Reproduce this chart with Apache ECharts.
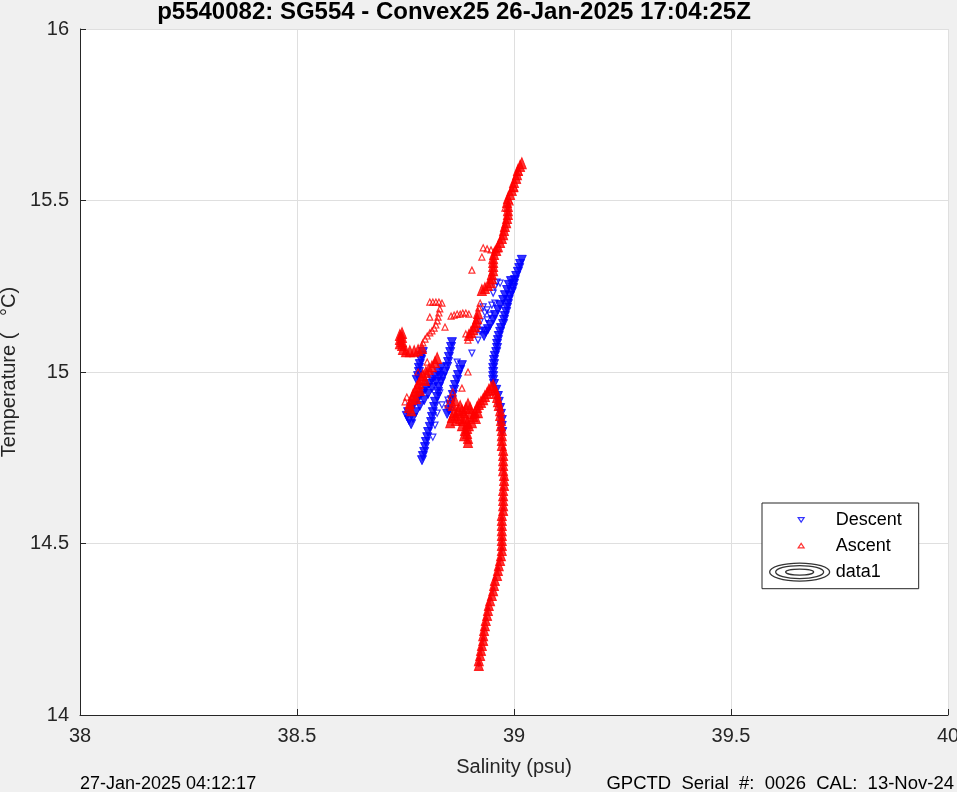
<!DOCTYPE html>
<html>
<head>
<meta charset="utf-8">
<script src="https://cdn.jsdelivr.net/npm/echarts/dist/echarts.min.js"></script>
<style>
html,body{margin:0;padding:0;background:#f0f0f0;}
#chart{width:957px;height:792px;}
</style>
</head>
<body>
<div id="chart"></div>
<script>
// ---------- axis ticks ----------
const salinityTicks = [38, 38.5, 39, 39.5, 40];
const temperatureTicks = [14, 14.5, 15, 15.5, 16];

// ---------- text ----------
const titleText = 'p5540082: SG554 - Convex25 26-Jan-2025 17:04:25Z';
const xLabel = 'Salinity (psu)';
const yLabel = 'Temperature (   °C)';
const footLeft = '27-Jan-2025 04:12:17';
const footRight = 'GPCTD  Serial  #:  0026  CAL:  13-Nov-24';

// ---------- Descent (salinity, temperature) ----------
const descentMain = [
[39.018,15.327],[39.014,15.315],[39.012,15.303],[39.009,15.292],[39.005,15.280],[39.002,15.268],[39.000,15.257],[38.998,15.245],[38.995,15.233],[38.991,15.222],[38.988,15.210],[38.986,15.198],[38.984,15.187],[38.982,15.175],[38.979,15.163],[38.977,15.152],[38.975,15.140],[38.970,15.128],[38.968,15.117],[38.965,15.105],[38.963,15.093],[38.961,15.082],[38.961,15.070],[38.959,15.058],[38.956,15.047],[38.954,15.035],[38.954,15.023],[38.952,15.012],[38.952,15.000],[38.952,14.988],[38.952,14.977],[38.954,14.965],[38.959,14.948],[38.963,14.930],[38.965,14.913],[38.968,14.895],[38.970,14.878],[38.972,14.860],[38.972,14.843],[38.973,14.825]
];
const descentDeep = [
[38.972,14.802],[38.975,14.773],[38.975,14.743],[38.975,14.714],[38.977,14.685],[38.975,14.656],[38.975,14.627],[38.975,14.598],[38.972,14.569],[38.972,14.539],[38.972,14.510],[38.972,14.481],[38.968,14.452],[38.963,14.423],[38.956,14.394],[38.952,14.364],[38.945,14.335],[38.940,14.306],[38.935,14.277],[38.931,14.248],[38.929,14.219],[38.924,14.190],[38.919,14.160],[38.919,14.146]
];
const descentBand = [
[38.993,15.265],[38.988,15.254],[38.984,15.239],[38.979,15.224],[38.975,15.210],[38.968,15.195],[38.963,15.181],[38.956,15.166],[38.952,15.152],[38.945,15.137],[38.940,15.125],[38.935,15.117],[38.931,15.105]
];
const descentLeft = [
[38.790,15.058],[38.788,15.047],[38.786,15.035],[38.783,15.023],[38.781,15.012],[38.781,15.000],[38.779,14.988],[38.776,14.977],
[38.832,15.012],[38.825,15.000],[38.818,14.988],[38.811,14.977],[38.804,14.965],[38.797,14.953],[38.790,14.942],[38.783,14.930],[38.776,14.918],[38.770,14.907],[38.763,14.895],[38.756,14.883],[38.753,14.872],[38.758,14.860],[38.763,14.848],
[38.829,14.988],[38.820,14.971],[38.811,14.953],[38.802,14.936],[38.793,14.918],[38.783,14.901],[38.774,14.883],[38.767,14.866]
];
const descentMiddle = [
[38.857,15.087],[38.855,15.073],[38.853,15.058],[38.850,15.044],[38.848,15.029],[38.846,15.015],[38.841,15.000],[38.836,14.985],[38.832,14.971],[38.827,14.956],[38.825,14.942],[38.823,14.927],[38.818,14.913],[38.816,14.898],[38.813,14.883],[38.811,14.869],[38.809,14.854],[38.806,14.840],[38.802,14.825],[38.800,14.810],[38.797,14.796],[38.795,14.781],[38.793,14.767],[38.790,14.755],[38.788,14.743]
];
const descentRight = [
[38.880,15.020],[38.876,15.006],[38.871,14.991],[38.869,14.977],[38.864,14.962],[38.862,14.948],[38.859,14.933],[38.857,14.918],[38.853,14.904],[38.850,14.889],[38.846,14.878]
];
const descentMarks = [
[38.961,15.262],[38.968,15.259],[38.956,15.248],[38.952,15.230],[38.956,15.201],[38.949,15.195],[38.938,15.181],[38.933,15.172],[38.945,15.166],[38.938,15.152],[38.929,15.122],[38.922,15.117],[38.929,15.190],[38.922,15.146],[38.915,15.122],[38.917,15.093],
[38.903,15.055],[38.869,15.029],[38.829,14.939],[38.834,14.904],[38.823,14.880],[38.818,14.845],[38.813,14.810],[38.848,14.918],[38.855,14.889]
];

// ---------- Ascent (salinity, temperature) ----------
const ascentDeep = [
[38.952,14.962],[38.956,14.950],[38.959,14.939],[38.961,14.927],[38.963,14.915],[38.965,14.904],[38.968,14.889],[38.968,14.875],[38.970,14.860],[38.970,14.845],[38.972,14.831],[38.972,14.816],[38.972,14.802],[38.972,14.787],[38.975,14.773],[38.975,14.758],[38.975,14.743],[38.975,14.729],[38.975,14.714],[38.977,14.700],[38.977,14.685],[38.977,14.671],[38.975,14.656],[38.975,14.641],[38.975,14.627],[38.975,14.612],[38.975,14.598],[38.972,14.583],[38.972,14.569],[38.972,14.554],[38.972,14.539],[38.972,14.525],[38.972,14.510],[38.972,14.496],[38.972,14.481],[38.970,14.466],[38.968,14.452],[38.965,14.437],[38.963,14.423],[38.961,14.408],[38.956,14.394],[38.954,14.379],[38.952,14.364],[38.949,14.350],[38.945,14.335],[38.942,14.321],[38.940,14.306],[38.938,14.292],[38.935,14.277],[38.933,14.262],[38.931,14.248],[38.929,14.233],[38.929,14.219],[38.926,14.204],[38.924,14.190],[38.922,14.175],[38.919,14.160],[38.919,14.146]
];
const ascentKink = [
[38.853,14.854],[38.857,14.869],[38.862,14.883],[38.866,14.875],[38.871,14.889],[38.876,14.901],[38.880,14.889],[38.885,14.883],[38.889,14.895],[38.894,14.907],[38.899,14.895],[38.901,14.880],[38.906,14.872],[38.910,14.883],[38.915,14.898],[38.919,14.907],[38.924,14.913],[38.929,14.921],[38.933,14.930],[38.938,14.939],[38.942,14.948],[38.947,14.956],
[38.889,14.866],[38.892,14.851],[38.892,14.837],[38.892,14.822],[38.894,14.808],[38.894,14.796],[38.887,14.831],[38.896,14.845],[38.859,14.904],[38.864,14.918],
[38.866,14.860],[38.876,14.866],[38.882,14.860],[38.903,14.854],[38.912,14.866],[38.917,14.883],[38.880,14.845],[38.885,14.816]
];
const ascentUpper = [
[39.018,15.609],[39.014,15.601],[39.009,15.589],[39.007,15.577],[39.005,15.566],[39.000,15.554],[38.998,15.542],[38.995,15.531],[38.991,15.519],[38.986,15.507],[38.984,15.496],[38.986,15.484],[38.986,15.472],[38.986,15.461],[38.984,15.449],[38.982,15.437],[38.979,15.426],[38.977,15.414],[38.975,15.402],[38.972,15.391],[38.968,15.379],[38.963,15.367],[38.959,15.356],[38.954,15.344],[38.952,15.332],[38.952,15.321],[38.952,15.309],[38.952,15.297],[38.949,15.286],[38.949,15.274],[38.947,15.262],[38.940,15.254],[38.933,15.245],[38.926,15.239]
];
const ascentMid = [
[38.917,15.172],[38.915,15.157],[38.912,15.146],[38.910,15.134],[38.906,15.125],[38.901,15.117],[38.896,15.108]
];
const ascentHook = [
[38.742,15.114],[38.742,15.102],[38.742,15.090],[38.742,15.079],[38.744,15.067],[38.751,15.061],[38.760,15.061],[38.770,15.061],[38.779,15.064],[38.788,15.070],[38.737,15.108],[38.737,15.096],[38.737,15.084]
];
const ascentLeft = [
[38.823,15.041],[38.818,15.029],[38.811,15.017],[38.804,15.009],[38.797,15.000],[38.790,14.991],[38.786,14.980],[38.781,14.968],[38.776,14.956],[38.772,14.945],[38.767,14.933],[38.765,14.921],[38.760,14.910],[38.758,14.898],[38.763,14.889],[38.795,14.977],[38.783,14.948],[38.774,14.924]
];
const ascentMarks = [
[38.929,15.362],[38.938,15.359],[38.947,15.356],[38.956,15.356],[38.963,15.359],[38.926,15.335],[38.903,15.297],[39.012,15.583],[39.002,15.536],[38.991,15.496],[38.979,15.478],
[38.922,15.201],[38.919,15.187],[38.894,15.093],[38.889,15.111],[38.899,15.108],
[38.855,15.163],[38.862,15.166],[38.869,15.169],[38.876,15.169],[38.882,15.172],[38.889,15.172],[38.896,15.169],
[38.806,15.204],[38.813,15.204],[38.820,15.204],[38.827,15.204],[38.834,15.201],
[38.790,15.085],[38.795,15.096],[38.800,15.105],[38.806,15.114],[38.811,15.120],[38.816,15.128],[38.820,15.137],[38.823,15.149],[38.825,15.160],[38.827,15.172],[38.829,15.184],
[38.806,15.160],[38.841,15.131],[38.894,15.000],[38.880,14.953],[38.859,14.942],[38.848,14.904],[38.853,14.924],
[38.749,14.913],[38.753,14.927],[38.779,15.000],[38.800,15.029]
];

const FONT = "'Liberation Sans', Arial, Helvetica, sans-serif";
const BLUE = '#0000ff', RED = '#ff0000', AXIS = '#262626';

const descentTrace = [].concat(descentMain, descentBand, descentLeft, descentMiddle, descentRight);
const ascentTrace = [].concat(ascentDeep, ascentKink, ascentUpper, ascentMid, ascentHook, ascentLeft);

const chart = echarts.init(document.getElementById('chart'), null, {renderer: 'canvas'});

const axisCommon = {
  type: 'value',
  axisLine: {show: true, onZero: false, lineStyle: {color: AXIS, width: 1}},
  axisTick: {show: true, inside: true, length: 6, lineStyle: {color: AXIS}},
  splitLine: {show: true, showMinLine: true, showMaxLine: true, lineStyle: {color: '#dfdfdf', width: 1}},
  axisLabel: {color: AXIS, fontSize: 20, fontFamily: FONT},
  nameTextStyle: {color: AXIS, fontSize: 20, fontFamily: FONT},
  nameLocation: 'middle'
};

chart.setOption({
  animation: false,
  backgroundColor: '#f0f0f0',
  grid: {left: 80, right: 9, top: 29, bottom: 77, show: true, backgroundColor: '#ffffff', borderWidth: 0, containLabel: false, outerBoundsMode: 'none'},
  xAxis: Object.assign({}, axisCommon, {
    min: salinityTicks[0], max: salinityTicks[salinityTicks.length - 1],
    interval: salinityTicks[1] - salinityTicks[0],
    name: xLabel, nameGap: 42,
    axisLabel: Object.assign({}, axisCommon.axisLabel, {margin: 11})
  }),
  yAxis: Object.assign({}, axisCommon, {
    min: temperatureTicks[0], max: temperatureTicks[temperatureTicks.length - 1],
    interval: temperatureTicks[1] - temperatureTicks[0],
    name: yLabel, nameGap: 56, nameRotate: 90,
    axisLabel: Object.assign({}, axisCommon.axisLabel, {margin: 11})
  }),
  legend: {
    orient: 'vertical', left: 762, top: 503,
    padding: [6, 17, 6, 6], itemGap: 5, itemWidth: 62, itemHeight: 20,
    backgroundColor: '#ffffff', borderColor: AXIS, borderWidth: 1, borderRadius: 0,
    selectedMode: false, symbolRotate: 0,
    textStyle: {fontSize: 18, color: '#000', fontFamily: FONT},
    data: [
      {name: 'Descent', icon: 'path://M0,0M62,20M29.5,8L35.5,8L32.5,12.5Z',
       itemStyle: {color: 'rgba(0,0,0,0)', borderColor: BLUE, borderWidth: 1.2}},
      {name: 'Ascent', icon: 'path://M0,0M62,20M32.5,7.5L35.5,12L29.5,12Z',
       itemStyle: {color: 'rgba(0,0,0,0)', borderColor: RED, borderWidth: 1.2}},
      {name: 'data1', icon: 'path://M0,0M62,20M1,10A30,9,0,1,1,61,10A30,9,0,1,1,1,10ZM7,10A24,6.5,0,1,1,55,10A24,6.5,0,1,1,7,10ZM17,10A14,3,0,1,1,45,10A14,3,0,1,1,17,10Z',
       itemStyle: {color: 'rgba(0,0,0,0)', borderColor: '#000', borderWidth: 1.3}}
    ]
  },
  graphic: [
    {type: 'text', x: 454, y: 12, silent: true,
     style: {text: titleText, fill: '#000', font: 'bold 24px ' + FONT, textAlign: 'center', textVerticalAlign: 'middle', align: 'center', verticalAlign: 'middle'}},
    {type: 'text', x: 80, y: 784, silent: true,
     style: {text: footLeft, fill: '#000', font: '18px ' + FONT, textAlign: 'left', textVerticalAlign: 'middle', align: 'left', verticalAlign: 'middle'}},
    {type: 'text', x: 954, y: 784, silent: true,
     style: {text: footRight, fill: '#000', font: '18.5px ' + FONT, textAlign: 'right', textVerticalAlign: 'middle', align: 'right', verticalAlign: 'middle'}}
  ],
  series: [
    {name: 'Descent', type: 'scatter', data: descentTrace, symbol: 'triangle', symbolRotate: 180, symbolSize: 9,
     itemStyle: {color: BLUE, borderColor: BLUE, borderWidth: 1}, silent: true, z: 2},
    {name: 'Descent', type: 'scatter', data: descentDeep, symbol: 'triangle', symbolRotate: 180, symbolSize: 4,
     itemStyle: {color: BLUE, borderColor: BLUE, borderWidth: 0.5}, silent: true, z: 2},
    {name: 'Descent', type: 'scatter', data: descentMarks, symbol: 'triangle', symbolRotate: 180, symbolSize: 6,
     itemStyle: {color: 'rgba(0,0,0,0)', borderColor: BLUE, borderWidth: 1.2}, silent: true, z: 2},
    {name: 'Ascent', type: 'scatter', data: ascentTrace, symbol: 'triangle', symbolSize: [9, 11],
     itemStyle: {color: RED, borderColor: RED, borderWidth: 1}, silent: true, z: 3},
    {name: 'Ascent', type: 'scatter', data: ascentMarks, symbol: 'triangle', symbolSize: 6,
     itemStyle: {color: 'rgba(0,0,0,0)', borderColor: RED, borderWidth: 1.2}, silent: true, z: 3},
    {name: 'data1', type: 'scatter', data: [], silent: true}
  ]
});
</script>
</body>
</html>
